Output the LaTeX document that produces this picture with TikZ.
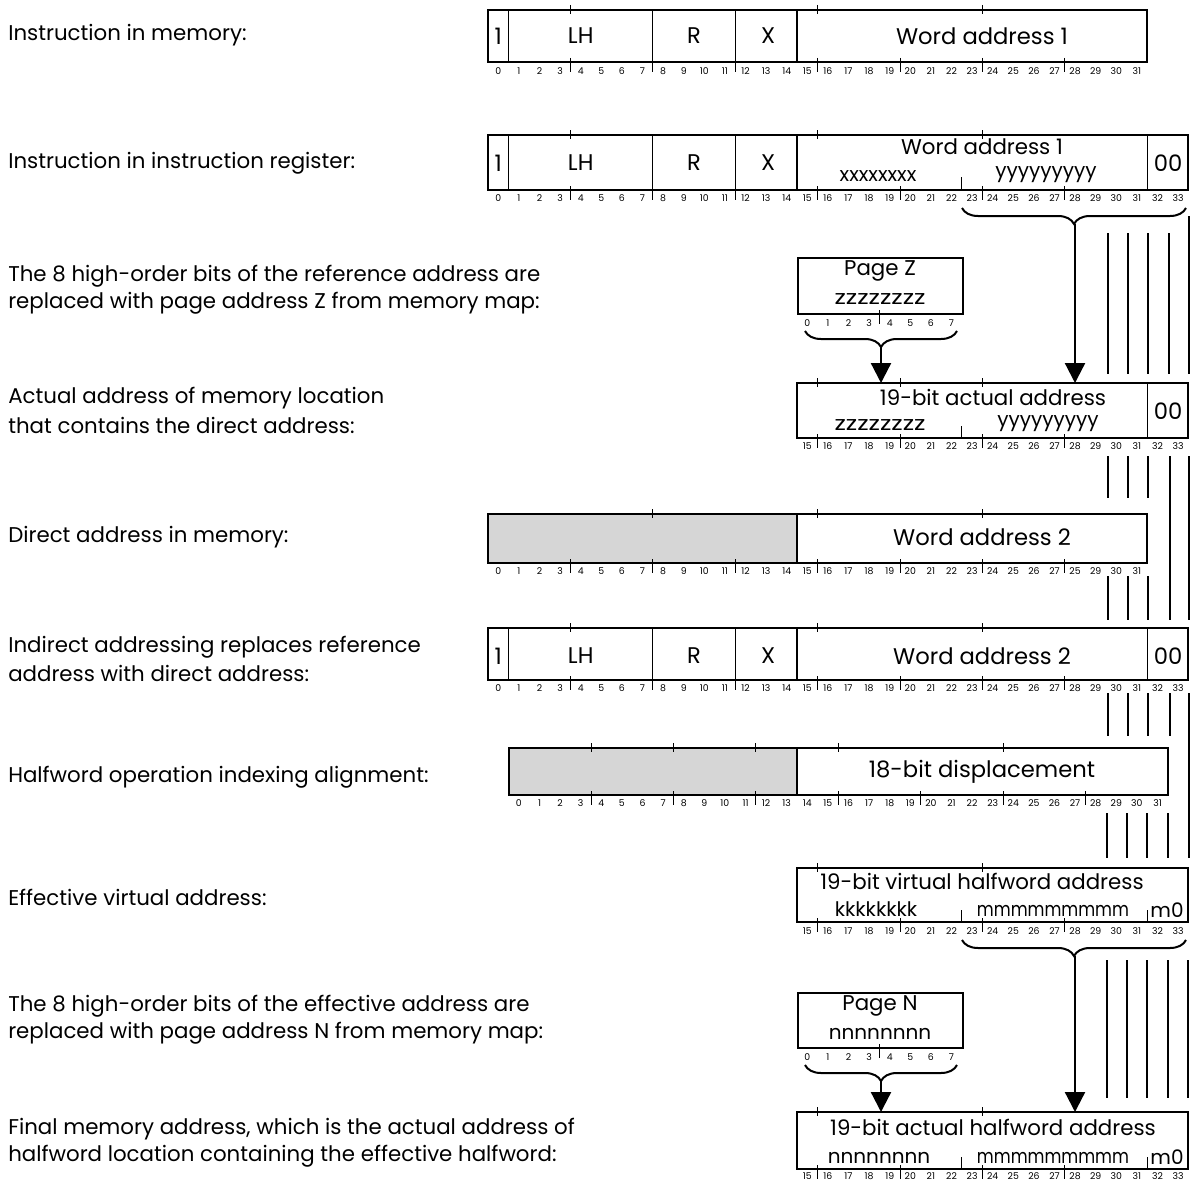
\documentclass[tikz,border=0pt]{standalone}
\usepackage{fontspec}
\usepackage{graphicx}
\setmainfont{Poppins}
\usetikzlibrary{arrows.meta,decorations.pathreplacing,calc}
\newcommand\regnode[5]{\node[reg,minimum width={#4*20.6*0.75pt},minimum height={#5*0.75pt}] (#1) at (#2,#3) {};}
\newcommand\bitnums[5]{\foreach \i in {#3,...,#4}{\node[num] (#1\i) at ({#2+20.6*(\i+0.5)},#5) {\i};}}
\newcommand\botticks[3]{\foreach \i in {#2}{\draw[tick] ({#1+20.6*\i},{#3-4}) -- ({#1+20.6*\i},{#3+10});}}
\newcommand\topticks[3]{\foreach \i in {#2}{\draw[tick] ({#1+20.6*\i},{#3-5}) -- ({#1+20.6*\i},{#3+4});}}
\newcommand\divs[4]{\foreach \i in {#2}{\draw[div] ({#1+20.6*\i},#3) -- ({#1+20.6*\i},#4);}}
\newcommand\vlines[3]{\foreach \i in {#1}{\draw[vline] (\i,#2) -- (\i,#3);}}
\newcommand\mmm{\scalebox{0.82}[1]{mmmmmmmmm}}
\begin{document}
\begin{tikzpicture}[x=0.75pt,y=-0.75pt,
  lbl/.style={anchor=west,font=\fontsize{16}{19}\selectfont,inner sep=0},
  reg/.style={draw,line width=1.5pt,anchor=north west,inner sep=0,outer sep=0},
  fld/.style={font=\fontsize{17}{19}\selectfont,inner sep=0},
  up/.style={font=\fontsize{16}{18}\selectfont,inner sep=0},
  low/.style={font=\fontsize{15}{17}\selectfont,inner sep=0},
  num/.style={font=\fontsize{7}{8}\selectfont,inner sep=0},
  tick/.style={line width=0.7pt},
  div/.style={line width=0.8pt},
  vline/.style={line width=1.2pt},
  arr/.style={line width=1.7pt,-{Triangle[width=15pt,length=15pt]}},
  brc/.style={line width=1.5pt,decorate,decoration={brace,mirror,amplitude=12pt}},
  shade/.style={fill=black!16}
]
\fill[white] (0,0) rectangle (1192,1181);
\useasboundingbox (0,0) rectangle (1192,1181);

% ---------- left labels ----------
\node[lbl] (L1) at (8,35) {Instruction in memory:};
\node[lbl] (L2) at (8,163) {Instruction in instruction register:};
\node[lbl] (L3a) at (8,276) {The 8 high-order bits of the reference address are};
\node[lbl] (L3b) at (8,303) {replaced with page address Z from memory map:};
\node[lbl] (L4a) at (8,398) {Actual address of memory location};
\node[lbl] (L4b) at (8,425) {that contains the direct address:};
\node[lbl] (L5) at (8,537) {Direct address in memory:};
\node[lbl] (L6a) at (8,647) {Indirect addressing replaces reference};
\node[lbl] (L6b) at (8,673) {address with direct address:};
\node[lbl] (L7) at (8,777) {Halfword operation indexing alignment:};
\node[lbl] (L8) at (8,897) {Effective virtual address:};
\node[lbl] (L9a) at (8,1006) {The 8 high-order bits of the effective address are};
\node[lbl] (L9b) at (8,1033) {replaced with page address N from memory map:};
\node[lbl] (L10a) at (8,1129) {Final memory address, which is the actual address of};
\node[lbl] (L10b) at (8,1156) {halfword location containing the effective halfword:};

% ---------- Row A: instruction in memory ----------
\regnode{A}{488}{10}{32}{52}
\divs{488}{1,8,12,15}{10}{62}
\topticks{488}{4,16,24}{10}
\botticks{488}{4,8,12,16,20,24,28}{62}
\node[fld] (A1) at ({488+20.6*0.5},36) {1};
\node[fld] (ALH) at ({488+20.6*4.5},36) {LH};
\node[fld] (AR) at ({488+20.6*10},36) {R};
\node[fld] (AX) at ({488+20.6*13.6},36) {X};
\node[fld] (AW) at (982,36) {Word address 1};
\bitnums{nA}{488}{0}{31}{71}

% ---------- Row B: instruction register ----------
\regnode{B}{488}{135}{34}{55}
\divs{488}{1,8,12,15,32}{135}{190}
\topticks{488}{4,16,24}{135}
\botticks{488}{4,8,12,16,20,24,28}{190}
\draw[tick] ({488+20.6*23},177) -- ({488+20.6*23},190);
\node[fld] (B1) at ({488+20.6*0.5},163) {1};
\node[fld] (BLH) at ({488+20.6*4.5},163) {LH};
\node[fld] (BR) at ({488+20.6*10},163) {R};
\node[fld] (BX) at ({488+20.6*13.6},163) {X};
\node[up] (BW) at (982,147) {Word address 1};
\node[low] (Bx) at (878,176) {xxxxxxxx};
\node[low] (By) at (1046,175) {yyyyyyyyy};
\node[fld] (B00) at (1168,163) {00};
\bitnums{nB}{488}{0}{33}{198}
\draw[brc] (962,208) -- (1186,208);
\coordinate (bBtip) at (1075,224);

% ---------- Row C: page Z ----------
\regnode{C}{798}{258}{8}{56}
\botticks{797}{4}{314}
\node[up] (CP) at (880,271) {Page Z};
\node[low] (Cz) at (880,299) {\scalebox{1.25}[1]{zzzzzzzz}};
\bitnums{nC}{797}{0}{7}{323}
\draw[brc] (805,331) -- (957,331);
\coordinate (bCtip) at (881,347);

% ---------- Row D: 19-bit actual address ----------
\regnode{D}{797}{383}{19}{55}
\divs{488}{32}{383}{438}
\topticks{488}{16,20,24}{383}
\botticks{488}{16,20,24,28}{438}
\draw[tick] ({488+20.6*23},426) -- ({488+20.6*23},438);
\node[up] (DT) at (993,397) {19-bit actual address};
\node[low] (Dz) at (880,425) {\scalebox{1.25}[1]{zzzzzzzz}};
\node[low] (Dy) at (1048,424) {yyyyyyyyy};
\node[fld] (D00) at (1168,411) {00};
\bitnums{nD}{488}{15}{33}{446}

\draw[arr] (bBtip) -- (bBtip |- D.north);
\draw[arr] (bCtip) -- (bCtip |- D.north);
\vlines{1108,1128,1148,1169}{233}{374}
\vlines{1189}{216}{374}

% ---------- Row Dm: direct address in memory ----------
\fill[shade] (488,514) rectangle (797,563);
\regnode{Dm}{488}{514}{32}{49}
\divs{488}{15}{514}{563}
\topticks{488}{8,16,24}{514}
\botticks{488}{4,8,12,16,20,24,28}{563}
\node[fld] (DmW) at (982,537) {Word address 2};
\foreach \i/\t in {0/0,1/1,2/2,3/3,4/4,5/5,6/6,7/7,8/8,9/9,10/10,11/11,12/12,13/13,14/14,15/15,16/16,17/17,18/18,19/19,20/20,21/21,22/22,23/23,24/24,25/25,26/26,27/27,28/25,29/29,30/30,31/31}
  {\node[num] (nDm\i) at ({488+20.6*(\i+0.5)},571) {\t};}
\vlines{1108,1128,1148}{456}{498}
\vlines{1170,1189}{456}{620}
\vlines{1108,1128,1148}{576}{620}

% ---------- Row E: indirect addressing ----------
\regnode{E}{488}{628}{34}{52}
\divs{488}{1,8,12,15,32}{628}{680}
\topticks{488}{4,16,24}{628}
\botticks{488}{4,8,12,16,20,24,28}{680}
\node[fld] (E1) at ({488+20.6*0.5},656) {1};
\node[fld] (ELH) at ({488+20.6*4.5},656) {LH};
\node[fld] (ER) at ({488+20.6*10},656) {R};
\node[fld] (EX) at ({488+20.6*13.6},656) {X};
\node[fld] (EW) at (982,656) {Word address 2};
\node[fld] (E00) at (1168,656) {00};
\bitnums{nE}{488}{0}{33}{688}
\vlines{1108,1128,1148,1170}{693}{736}
\vlines{1189}{693}{858}

% ---------- Row F: halfword alignment ----------
\fill[shade] (508.6,748) rectangle (797,795);
\regnode{F}{508.6}{748}{32}{47}
\divs{508.6}{14}{748}{795}
\topticks{508.6}{4,8,12,16,24}{748}
\botticks{508.6}{4,8,12,16,20,24,28}{795}
\node[fld] (FW) at (982,772) {18-bit displacement};
\bitnums{nF}{508.6}{0}{31}{803}
\vlines{1107,1127,1147,1168}{813}{858}

% ---------- Row G: effective virtual address ----------
\regnode{G}{797}{868}{19}{54}
\topticks{488}{16,24}{868}
\botticks{488}{16,20,24,28}{922}
\draw[tick] ({488+20.6*23},910) -- ({488+20.6*23},922);
\draw[tick] ({488+20.6*32},910) -- ({488+20.6*32},922);
\node[up] (GT) at (982,881) {19-bit virtual halfword address};
\node[low] (Gk) at (876,909) {kkkkkkkk};
\node[low] (Gm) at (1053,911) {\mmm};
\node[low] (Gm0) at (1167,910) {m0};
\bitnums{nG}{488}{15}{33}{931}
\draw[brc] (962,940) -- (1186,940);
\coordinate (bGtip) at (1075,956);

% ---------- Row H: page N ----------
\regnode{H}{798}{993}{8}{55}
\botticks{797}{4}{1048}
\node[up] (HP) at (880,1006) {Page N};
\node[low] (Hn) at (880,1034) {nnnnnnnn};
\bitnums{nH}{797}{0}{7}{1057}
\draw[brc] (805,1065) -- (957,1065);
\coordinate (bHtip) at (881,1081);

% ---------- Row I: final memory address ----------
\regnode{I}{797}{1112}{19}{57}
\topticks{488}{16,24}{1112}
\botticks{488}{16,20,24,28}{1169}
\draw[tick] ({488+20.6*23},1157) -- ({488+20.6*23},1169);
\draw[tick] ({488+20.6*32},1157) -- ({488+20.6*32},1169);
\node[up] (IT) at (993,1127) {19-bit actual halfword address};
\node[low] (In) at (879,1158) {nnnnnnnn};
\node[low] (Im) at (1053,1158) {\mmm};
\node[low] (Im0) at (1167,1157) {m0};
\bitnums{nI}{488}{15}{33}{1176}

\draw[arr] (bGtip) -- (bGtip |- I.north);
\draw[arr] (bHtip) -- (bHtip |- I.north);
\vlines{1107,1127,1147,1168,1188}{960}{1098}
\end{tikzpicture}
\end{document}
